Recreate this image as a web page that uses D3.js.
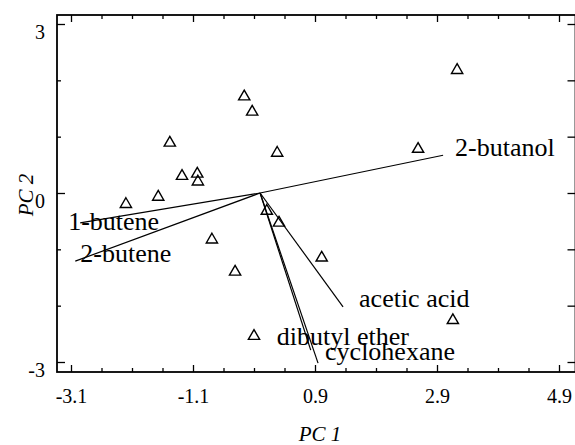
<!DOCTYPE html>
<html>
<head>
<meta charset="utf-8">
<script src="https://d3js.org/d3.v7.min.js"></script>
<style>
    body { margin: 0; background: #fff; }
    text { font-family: "Liberation Serif", "Times New Roman", serif; fill: #000; }
</style>
</head>
<body>
<script>
// PCA biplot: sample scores (triangles) and solvent loadings (lines)

// sample scores
var scorePC1 = [3.23, -0.26, -0.13, -1.48, 0.28, 2.59, -1.28, -1.03, -1.02,
    -1.67, -2.20, 0.11, 0.31, -0.79, 1.01, -0.41, 3.16, -0.10];
var scorePC2 = [2.18, 1.71, 1.44, 0.89, 0.71, 0.78, 0.30, 0.34, 0.20,
    -0.07, -0.20, -0.32, -0.53, -0.83, -1.15, -1.40, -2.26, -2.54];

// loadings
var loadNames = ["2-butanol", "1-butene", "2-butene", "acetic acid",
    "dibutyl ether", "cyclohexane"];
var loadPC1 = [3.00, -2.95, -3.03, 1.36, 0.83, 0.95];
var loadPC2 = [0.67, -0.53, -1.21, -2.02, -2.79, -3.02];

// tick values
var xMajor = [-3.1, -1.1, 0.9, 2.9, 4.9];
var xMinor = [-2.6, -2.1, -1.6, -0.6, -0.1, 0.4, 1.4, 1.9, 2.4, 3.4, 3.9, 4.4];
var yMajor = [3, 0, -3];
var yMinor = [2, 1, -1, -2];

// label offsets from the end of each loading line (pixels)
var labelDx = [12, -12, 5, 16, -34, 7];
var labelDy = [1, 7, 1, 0, -5, -3];

var width = 575, height = 445;
var frame = {left: 57, right: 575.5, top: 15, bottom: 372};

var x = d3.scaleLinear().domain([-3.1, 4.9]).range([71, 559]);
var y = d3.scaleLinear().domain([-3, 3]).range([362, 24]);

// plain hyphen for negatives, like the original
function fmt(spec) {
    var f = d3.format(spec);
    return function(d) { return f(d).replace("\u2212", "-"); };
}

var svg = d3.select("body").append("svg")
    .attr("width", width)
    .attr("height", height);

// ticks on all four sides
function ticks(axis, vals, size, pos) {
    var g = svg.append("g")
        .attr("transform", pos)
        .call(axis.tickValues(vals).tickSize(-size).tickFormat(""));
    g.select(".domain").remove();
    g.selectAll("line").attr("stroke", "#000").attr("stroke-width", 1.3);
    return g;
}

ticks(d3.axisBottom(x), xMinor, 4, "translate(0," + frame.bottom + ")");
ticks(d3.axisTop(x), xMinor, 4, "translate(0," + frame.top + ")");
ticks(d3.axisTop(x), xMajor, 7, "translate(0," + frame.top + ")");
ticks(d3.axisLeft(y), yMinor, 4, "translate(" + frame.left + ",0)");
ticks(d3.axisRight(y), yMinor.concat(yMajor), 8, "translate(" + frame.right + ",0)");

// labelled axes
var xAxis = svg.append("g")
    .attr("transform", "translate(0," + frame.bottom + ")")
    .call(d3.axisBottom(x).tickValues(xMajor).tickSize(-7).tickPadding(17)
        .tickFormat(fmt(".1f")));
xAxis.select(".domain").remove();
xAxis.selectAll("line").attr("stroke", "#000").attr("stroke-width", 1.3);
xAxis.selectAll("text")
    .style("font-family", "Liberation Serif")
    .attr("font-size", 20);

var yAxis = svg.append("g")
    .attr("transform", "translate(" + frame.left + ",0)")
    .call(d3.axisLeft(y).tickValues(yMajor).tickSize(-8).tickPadding(12)
        .tickFormat(fmt("d")));
yAxis.select(".domain").remove();
yAxis.selectAll("line").attr("stroke", "#000").attr("stroke-width", 1.3);
yAxis.selectAll("text")
    .style("font-family", "Liberation Serif")
    .attr("font-size", 20)
    .attr("dy", "0.71em");

// frame
svg.append("rect")
    .attr("x", frame.left)
    .attr("y", frame.top)
    .attr("width", frame.right - frame.left)
    .attr("height", frame.bottom - frame.top)
    .attr("fill", "none")
    .attr("stroke", "#000")
    .attr("stroke-width", 1.8);

// axis titles
svg.append("text")
    .attr("x", 320)
    .attr("y", 441)
    .attr("text-anchor", "middle")
    .attr("font-size", 21)
    .attr("font-style", "italic")
    .text("PC 1");

svg.append("text")
    .attr("transform", "translate(33,195) rotate(-90)")
    .attr("text-anchor", "middle")
    .attr("font-size", 21)
    .attr("font-style", "italic")
    .text("PC 2");

// loading lines
svg.selectAll(".load")
    .data(loadNames)
    .enter().append("line")
    .attr("class", "load")
    .attr("x1", x(0))
    .attr("y1", y(0))
    .attr("x2", function(d, i) { return x(loadPC1[i]); })
    .attr("y2", function(d, i) { return y(loadPC2[i]); })
    .attr("stroke", "#000")
    .attr("stroke-width", 1.2);

// score triangles
svg.selectAll(".score")
    .data(scorePC1)
    .enter().append("path")
    .attr("class", "score")
    .attr("d", d3.symbol().type(d3.symbolTriangle).size(55))
    .attr("transform", function(d, i) {
        return "translate(" + x(d) + "," + y(scorePC2[i]) + ")";
    })
    .attr("fill", "none")
    .attr("stroke", "#000")
    .attr("stroke-width", 1.4);

// loading labels
svg.selectAll(".lab")
    .data(loadNames)
    .enter().append("text")
    .attr("class", "lab")
    .attr("x", function(d, i) { return x(loadPC1[i]) + labelDx[i]; })
    .attr("y", function(d, i) { return y(loadPC2[i]) + labelDy[i]; })
    .attr("font-size", 26)
    .text(function(d) { return d; });
</script>
</body>
</html>
